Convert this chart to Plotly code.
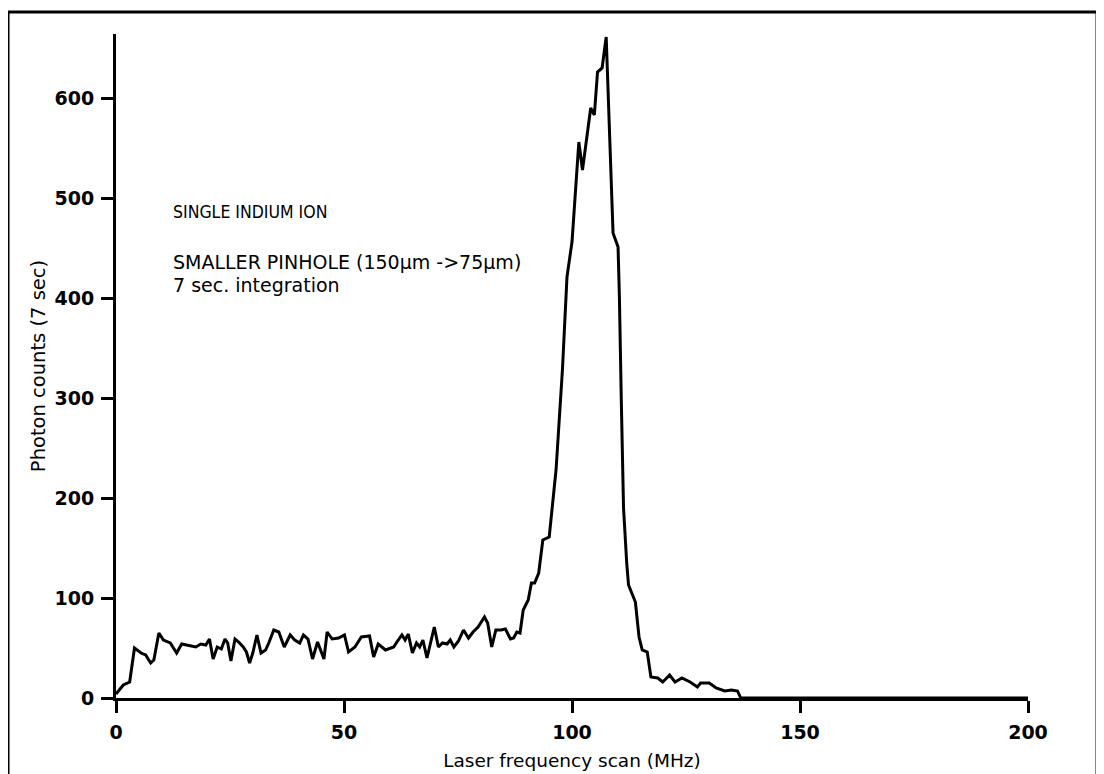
import plotly.graph_objects as go

# Laser frequency scan (MHz) and photon counts (7 sec)
freq_mhz = [0, 1.6, 3, 4.05, 5.5, 6.5, 7.6, 8.3, 9.4, 10.4, 11.9, 13.3, 14.4, 16.1,
            17.5, 18.6, 19.7, 20.5, 21.3, 22.2, 23.1, 23.9, 24.5, 25.2, 26.1, 26.9,
            27.9, 28.6, 29.3, 30, 30.9, 31.8, 32.8, 33.5, 34.6, 35.7, 36.9, 38.2,
            39.2, 40.3, 41.1, 42.1, 43.1, 44.2, 45.6, 46.3, 47.4, 48.8, 50.1, 51,
            52.4, 53.8, 55.6, 56.5, 57.5, 59.1, 60.9, 61.6, 62.7, 63.4, 64.1, 65,
            65.9, 66.6, 67.3, 68.2, 69.1, 69.8, 70.7, 71.6, 72.6, 73.3, 74.1, 75.1,
            76.2, 77.3, 78.3, 79.4, 80.8, 81.5, 82.4, 83.3, 84.4, 85.4, 86.5, 87.2,
            87.9, 88.6, 89.3, 90.4, 91.1, 91.8, 92.7, 93.6, 95, 95.4, 96.5, 97.2,
            97.9, 98.9, 100, 101.5, 102.3, 104.1, 104.9, 105.6, 106.6, 107.5, 109,
            110.1, 110.4, 110.8, 111.3, 112, 112.4, 113.9, 114.7, 115.4, 116.5,
            117.3, 118.8, 119.9, 121.4, 122.6, 124.1, 125.9, 127.5, 128.2, 130.1,
            131.6, 133.5, 135, 136.3, 137, 150, 175, 200]
photon_counts = [4, 13, 16, 50, 45, 43, 35, 38, 65, 58, 55, 45, 54, 52,
                 51, 54, 53, 59, 39, 51, 49, 59, 55, 37, 59, 56,
                 51, 46, 35, 45, 63, 45, 48, 55, 68, 66, 51, 63,
                 58, 55, 63, 59, 39, 56, 39, 66, 59, 60, 63, 46,
                 51, 61, 62, 41, 54, 48, 51, 56, 63, 58, 64, 45,
                 55, 51, 58, 40, 58, 71, 51, 55, 54, 58, 51, 57,
                 68, 60, 66, 71, 81, 75, 51, 68, 68, 69, 59, 60,
                 66, 65, 88, 98, 115, 115, 125, 158, 161, 178, 228, 278,
                 328, 421, 456, 556, 528, 590, 583, 626, 630, 661, 465,
                 451, 400, 300, 190, 135, 113, 96, 61, 48, 46,
                 21, 20, 16, 23, 16, 20, 16, 11, 15, 15,
                 10, 7, 8, 7, 0, 0, 0, 0]

x_ticks = [0, 50, 100, 150, 200]
y_ticks = [0, 100, 200, 300, 400, 500, 600]

title_text = "SINGLE INDIUM ION"
note_lines = ["SMALLER PINHOLE (150\u00b5m ->75\u00b5m)", "7 sec. integration"]
title_y = 486
note_y = [436, 413]

SANS = "DejaVu Sans, Liberation Sans, Arial, sans-serif"
NARROW = "Liberation Sans Narrow, DejaVu Sans Condensed, Liberation Sans, sans-serif"

fig = go.Figure()
fig.add_trace(go.Scatter(
    x=freq_mhz, y=photon_counts, mode="lines",
    line=dict(color="black", width=3), showlegend=False, hoverinfo="x+y"))

fig.add_annotation(x=12.0, y=title_y, xref="x", yref="y", text=title_text,
                   showarrow=False, xanchor="left", yanchor="middle",
                   font=dict(family=NARROW, size=17.5, color="black"))
for txt, yy in zip(note_lines, note_y):
    fig.add_annotation(x=12.0, y=yy, xref="x", yref="y", text=txt,
                       showarrow=False, xanchor="left", yanchor="middle",
                       font=dict(family=SANS, size=19, color="black"))

# outer frame around the whole figure
fig.add_shape(type="rect", xref="paper", yref="paper",
              x0=-0.1184, x1=1.0757, y0=-0.14, y1=1.033,
              line=dict(color="black", width=3), layer="above")

fig.update_layout(
    width=1104, height=774,
    margin=dict(l=108, r=84, t=26, b=84),
    paper_bgcolor="white", plot_bgcolor="white",
    font=dict(family=SANS, color="black"),
    xaxis=dict(range=[0, 200], tickvals=x_ticks, ticktext=[str(v) for v in x_ticks],
               showgrid=False, zeroline=False, showline=True, linecolor="black",
               linewidth=3, ticks="outside", ticklen=12, tickwidth=3,
               tickcolor="black", ticklabelstandoff=3, automargin=False,
               tickfont=dict(family=SANS, size=19, weight="bold", color="black"),
               title=dict(text="Laser frequency scan (MHz)", standoff=13,
                          font=dict(family=SANS, size=18.5, color="black"))),
    yaxis=dict(range=[0, 664], tickvals=y_ticks, ticktext=[str(v) for v in y_ticks],
               showgrid=False, zeroline=False, showline=True, linecolor="black",
               linewidth=3, ticks="outside", ticklen=12, tickwidth=3,
               tickcolor="black", ticklabelstandoff=3, automargin=False,
               tickfont=dict(family=SANS, size=19, weight="bold", color="black"),
               title=dict(text="Photon counts (7 sec)", standoff=4,
                          font=dict(family=SANS, size=19.5, color="black"))),
)

fig.write_html("out.html")
